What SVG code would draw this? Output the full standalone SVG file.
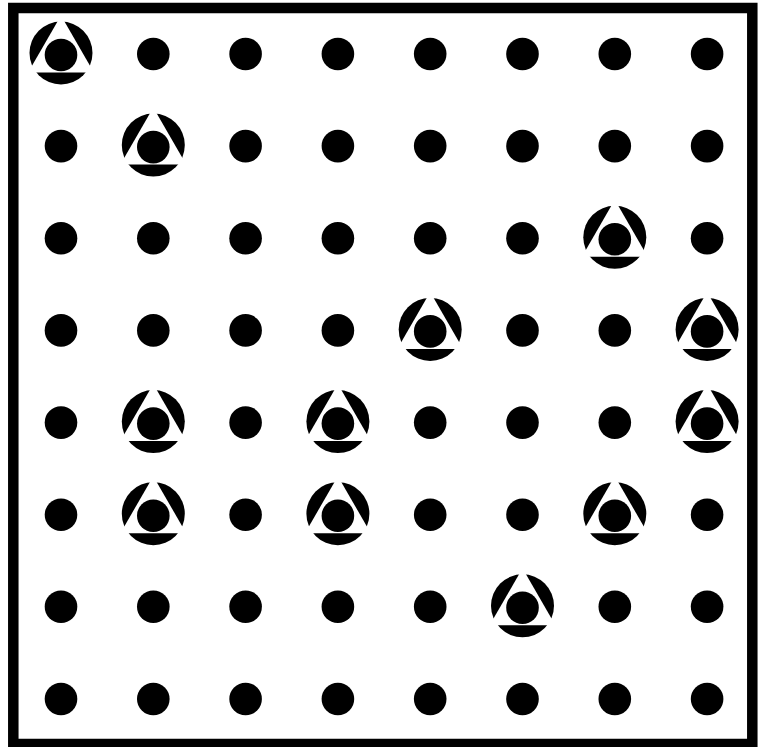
<svg xmlns="http://www.w3.org/2000/svg" xmlns:xlink="http://www.w3.org/1999/xlink" width="764" height="747" viewBox="0 0 764 747">
<style>
.frame{fill:none;stroke:#000;stroke-width:10.5}
.blk{fill:#000}
.wht{fill:#fff}
</style>
<defs>
<circle id="dot" class="blk" r="16.3"/>
<g id="mark">
<circle class="blk" cy="-1" r="31.5"/>
<polygon class="wht" points="0,-38.5 32.9,18.5 -32.9,18.5"/>
<circle class="blk" cy="1" r="16.3"/>
</g>
</defs>
<rect width="764" height="747" fill="#fff"/>
<rect class="frame" x="13.3" y="8" width="739" height="736"/>
<g id="connectors"/>
<g id="r0">
<g id="n0_0"><use xlink:href="#mark" x="61" y="54"/></g>
<g id="n0_1"><use xlink:href="#dot" x="153.3" y="54"/></g>
<g id="n0_2"><use xlink:href="#dot" x="245.6" y="54"/></g>
<g id="n0_3"><use xlink:href="#dot" x="337.9" y="54"/></g>
<g id="n0_4"><use xlink:href="#dot" x="430.2" y="54"/></g>
<g id="n0_5"><use xlink:href="#dot" x="522.5" y="54"/></g>
<g id="n0_6"><use xlink:href="#dot" x="614.8" y="54"/></g>
<g id="n0_7"><use xlink:href="#dot" x="707.1" y="54"/></g>
</g>
<g id="r1">
<g id="n1_0"><use xlink:href="#dot" x="61" y="146.1"/></g>
<g id="n1_1"><use xlink:href="#mark" x="153.3" y="146.1"/></g>
<g id="n1_2"><use xlink:href="#dot" x="245.6" y="146.1"/></g>
<g id="n1_3"><use xlink:href="#dot" x="337.9" y="146.1"/></g>
<g id="n1_4"><use xlink:href="#dot" x="430.2" y="146.1"/></g>
<g id="n1_5"><use xlink:href="#dot" x="522.5" y="146.1"/></g>
<g id="n1_6"><use xlink:href="#dot" x="614.8" y="146.1"/></g>
<g id="n1_7"><use xlink:href="#dot" x="707.1" y="146.1"/></g>
</g>
<g id="r2">
<g id="n2_0"><use xlink:href="#dot" x="61" y="238.3"/></g>
<g id="n2_1"><use xlink:href="#dot" x="153.3" y="238.3"/></g>
<g id="n2_2"><use xlink:href="#dot" x="245.6" y="238.3"/></g>
<g id="n2_3"><use xlink:href="#dot" x="337.9" y="238.3"/></g>
<g id="n2_4"><use xlink:href="#dot" x="430.2" y="238.3"/></g>
<g id="n2_5"><use xlink:href="#dot" x="522.5" y="238.3"/></g>
<g id="n2_6"><use xlink:href="#mark" x="614.8" y="238.3"/></g>
<g id="n2_7"><use xlink:href="#dot" x="707.1" y="238.3"/></g>
</g>
<g id="r3">
<g id="n3_0"><use xlink:href="#dot" x="61" y="330.4"/></g>
<g id="n3_1"><use xlink:href="#dot" x="153.3" y="330.4"/></g>
<g id="n3_2"><use xlink:href="#dot" x="245.6" y="330.4"/></g>
<g id="n3_3"><use xlink:href="#dot" x="337.9" y="330.4"/></g>
<g id="n3_4"><use xlink:href="#mark" x="430.2" y="330.4"/></g>
<g id="n3_5"><use xlink:href="#dot" x="522.5" y="330.4"/></g>
<g id="n3_6"><use xlink:href="#dot" x="614.8" y="330.4"/></g>
<g id="n3_7"><use xlink:href="#mark" x="707.1" y="330.4"/></g>
</g>
<g id="r4">
<g id="n4_0"><use xlink:href="#dot" x="61" y="422.6"/></g>
<g id="n4_1"><use xlink:href="#mark" x="153.3" y="422.6"/></g>
<g id="n4_2"><use xlink:href="#dot" x="245.6" y="422.6"/></g>
<g id="n4_3"><use xlink:href="#mark" x="337.9" y="422.6"/></g>
<g id="n4_4"><use xlink:href="#dot" x="430.2" y="422.6"/></g>
<g id="n4_5"><use xlink:href="#dot" x="522.5" y="422.6"/></g>
<g id="n4_6"><use xlink:href="#dot" x="614.8" y="422.6"/></g>
<g id="n4_7"><use xlink:href="#mark" x="707.1" y="422.6"/></g>
</g>
<g id="r5">
<g id="n5_0"><use xlink:href="#dot" x="61" y="514.7"/></g>
<g id="n5_1"><use xlink:href="#mark" x="153.3" y="514.7"/></g>
<g id="n5_2"><use xlink:href="#dot" x="245.6" y="514.7"/></g>
<g id="n5_3"><use xlink:href="#mark" x="337.9" y="514.7"/></g>
<g id="n5_4"><use xlink:href="#dot" x="430.2" y="514.7"/></g>
<g id="n5_5"><use xlink:href="#dot" x="522.5" y="514.7"/></g>
<g id="n5_6"><use xlink:href="#mark" x="614.8" y="514.7"/></g>
<g id="n5_7"><use xlink:href="#dot" x="707.1" y="514.7"/></g>
</g>
<g id="r6">
<g id="n6_0"><use xlink:href="#dot" x="61" y="606.8"/></g>
<g id="n6_1"><use xlink:href="#dot" x="153.3" y="606.8"/></g>
<g id="n6_2"><use xlink:href="#dot" x="245.6" y="606.8"/></g>
<g id="n6_3"><use xlink:href="#dot" x="337.9" y="606.8"/></g>
<g id="n6_4"><use xlink:href="#dot" x="430.2" y="606.8"/></g>
<g id="n6_5"><use xlink:href="#mark" x="522.5" y="606.8"/></g>
<g id="n6_6"><use xlink:href="#dot" x="614.8" y="606.8"/></g>
<g id="n6_7"><use xlink:href="#dot" x="707.1" y="606.8"/></g>
</g>
<g id="r7">
<g id="n7_0"><use xlink:href="#dot" x="61" y="699"/></g>
<g id="n7_1"><use xlink:href="#dot" x="153.3" y="699"/></g>
<g id="n7_2"><use xlink:href="#dot" x="245.6" y="699"/></g>
<g id="n7_3"><use xlink:href="#dot" x="337.9" y="699"/></g>
<g id="n7_4"><use xlink:href="#dot" x="430.2" y="699"/></g>
<g id="n7_5"><use xlink:href="#dot" x="522.5" y="699"/></g>
<g id="n7_6"><use xlink:href="#dot" x="614.8" y="699"/></g>
<g id="n7_7"><use xlink:href="#dot" x="707.1" y="699"/></g>
</g>
</svg>
